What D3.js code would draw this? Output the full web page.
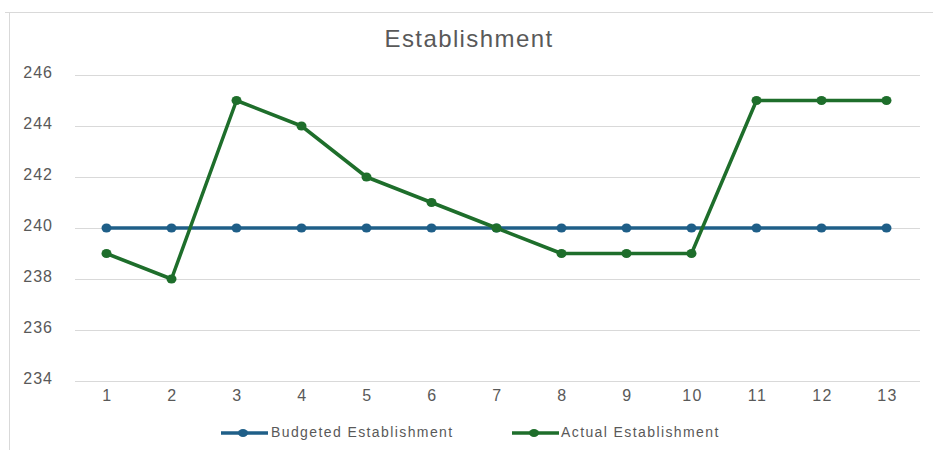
<!DOCTYPE html>
<html>
<head>
<meta charset="utf-8">
<script src="https://cdn.jsdelivr.net/npm/d3@7"></script>
<style>
  html, body { margin: 0; padding: 0; background: #fff; }
  svg { display: block; font-family: "Liberation Sans", Arial, sans-serif; }
</style>
</head>
<body>
<svg id="chart" width="933" height="450"></svg>
<script>
// Period numbers along the x axis
const periods = [1, 2, 3, 4, 5, 6, 7, 8, 9, 10, 11, 12, 13];
// Headcount series
const budgeted = [240, 240, 240, 240, 240, 240, 240, 240, 240, 240, 240, 240, 240];
const actual   = [239, 238, 245, 244, 242, 241, 240, 239, 239, 239, 245, 245, 245];
// Value axis ticks
const yTicks = [234, 236, 238, 240, 242, 244, 246];
const seriesNames = ["Budgeted Establishment", "Actual Establishment"];
const seriesColors = ["#1f5f88", "#1e6e2b"];

const svg = d3.select("#chart");
const W = 933, H = 450;
const textColor = "#595959";

// Chart frame (top and left edges)
svg.append("line").attr("x1", 5).attr("x2", W).attr("y1", 12.5).attr("y2", 12.5)
  .attr("stroke", "#d9d9d9").attr("stroke-width", 1);
svg.append("line").attr("x1", 9.5).attr("x2", 9.5).attr("y1", 12).attr("y2", H)
  .attr("stroke", "#d9d9d9").attr("stroke-width", 1);

const plotLeft = 74, plotRight = 919, plotTop = 75, plotBottom = 381;

const x = d3.scaleBand().domain(periods).range([plotLeft, plotRight]);
const y = d3.scaleLinear().domain([234, 246]).range([plotBottom, plotTop]);
const cx = d => x(d) + x.bandwidth() / 2;

// Title
svg.append("text").attr("x", 469).attr("y", 47).attr("text-anchor", "middle")
  .attr("font-size", 24).attr("letter-spacing", 1.4).attr("fill", textColor)
  .text("Establishment");

// Gridlines
svg.append("g").selectAll("line").data(yTicks).join("line")
  .attr("x1", plotLeft + 1).attr("x2", plotRight + 1)
  .attr("y1", d => Math.round(y(d)) + 0.5).attr("y2", d => Math.round(y(d)) + 0.5)
  .attr("stroke", "#d9d9d9").attr("stroke-width", 1);

// Y axis labels
const yAxis = d3.axisLeft(y).tickValues(yTicks).tickSize(0).tickPadding(0);
const gy = svg.append("g").attr("transform", `translate(53,-3)`).call(yAxis);
gy.select(".domain").remove();
gy.selectAll("text").attr("font-size", 16).attr("letter-spacing", 1).attr("fill", textColor)
  .attr("font-family", "Liberation Sans, Arial, sans-serif");

// X axis labels
const xAxis = d3.axisBottom(x).tickSize(0).tickPadding(0);
const gx = svg.append("g").attr("transform", `translate(1,${plotBottom + 9})`).call(xAxis);
gx.select(".domain").remove();
gx.selectAll("text").attr("font-size", 16).attr("letter-spacing", 1.4).attr("fill", textColor)
  .attr("font-family", "Liberation Sans, Arial, sans-serif");

// Series lines and markers
const line = d3.line().x((d, i) => cx(periods[i])).y(d => y(d));
[budgeted, actual].forEach((vals, s) => {
  const g = svg.append("g");
  g.append("path").datum(vals).attr("d", line).attr("fill", "none")
    .attr("stroke", seriesColors[s]).attr("stroke-width", 3.5)
    .attr("stroke-linejoin", "round");
  g.selectAll("ellipse").data(vals).join("ellipse")
    .attr("cx", (d, i) => cx(periods[i])).attr("cy", d => y(d))
    .attr("rx", 5).attr("ry", 4.5).attr("fill", seriesColors[s]);
});

// Legend
const legendItems = [{ x0: 221, tx: 271 }, { x0: 512, tx: 561 }];
legendItems.forEach((it, i) => {
  const g = svg.append("g");
  g.append("line").attr("x1", it.x0).attr("x2", it.x0 + 47).attr("y1", 433).attr("y2", 433)
    .attr("stroke", seriesColors[i]).attr("stroke-width", 3.5);
  g.append("ellipse").attr("cx", it.x0 + 22).attr("cy", 433).attr("rx", 5).attr("ry", 4)
    .attr("fill", seriesColors[i]);
  g.append("text").attr("x", it.tx).attr("y", 437).attr("font-size", 14)
    .attr("letter-spacing", 1.4).attr("fill", textColor).text(seriesNames[i]);
});
</script>
</body>
</html>
